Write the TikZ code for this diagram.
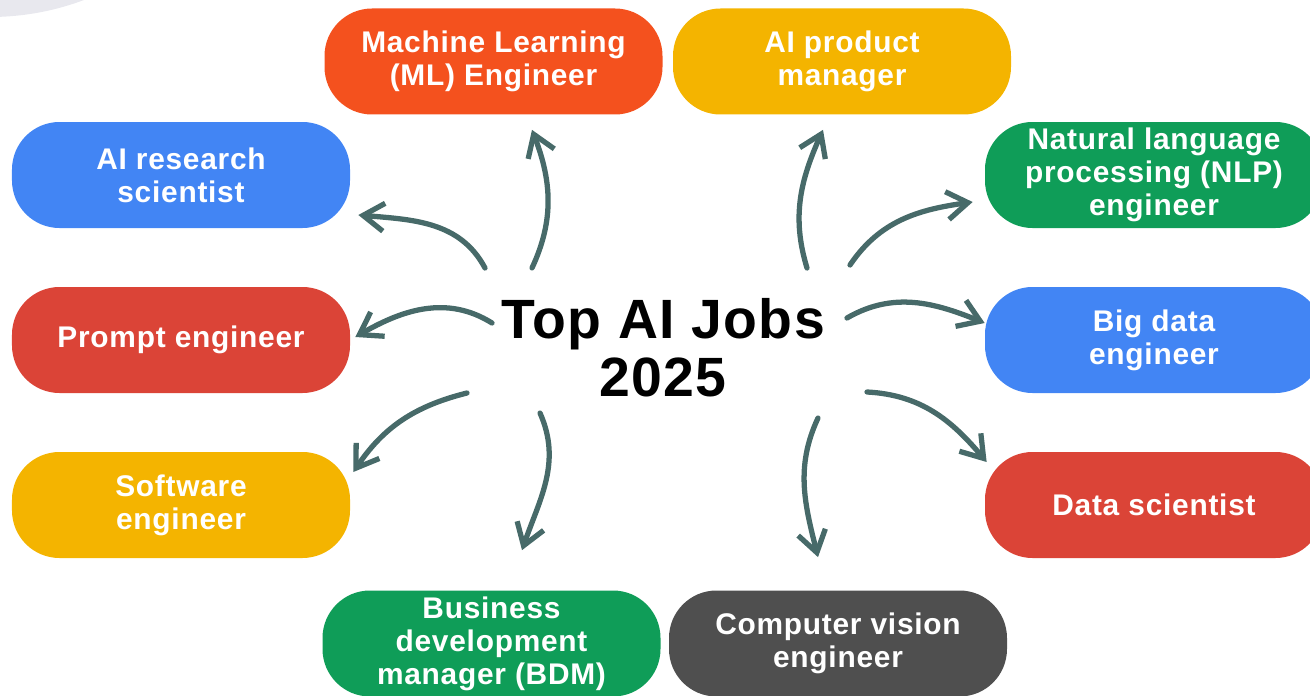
\documentclass[tikz,border=0pt]{standalone}
\usepackage{fontspec}
\setmainfont[LetterSpace=2.5]{Liberation Sans}
\usetikzlibrary{arrows.meta}
\definecolor{mlorange}{HTML}{F4511E}
\definecolor{gyellow}{HTML}{F4B400}
\definecolor{gblue}{HTML}{4285F4}
\definecolor{ggreen}{HTML}{0F9D58}
\definecolor{gred}{HTML}{DB4437}
\definecolor{cvgray}{HTML}{4F4F4F}
\definecolor{arrowteal}{HTML}{476A69}
\definecolor{bgcircle}{HTML}{E8E8EE}

\begin{document}
\begin{tikzpicture}[
            node distance=3.3cm,
            jobbox/.style={rectangle, rounded corners=0.95cm, minimum width=6.76cm, minimum height=2.12cm, align=center, text=white, font=\fontsize{17}{18.8}\selectfont\bfseries},
            arrow/.style={-{Straight Barb[length=0.42cm,width=0.56cm]}, line width=3pt, line cap=round, line join=round, draw=arrowteal}
        ]
            \useasboundingbox (0,0) rectangle (26.2,13.9);
            \clip (0,0) rectangle (26.2,13.9);
            \fill[bgcircle] (-0.2,18.9) circle (5.34cm);

            \node[jobbox, fill=mlorange] (ml) at (9.87,12.67) {Machine Learning\\(ML) Engineer};
            \node[jobbox, fill=gyellow, right of=ml, node distance=6.97cm] (product) {AI product\\manager};
            \node[jobbox, fill=gblue] (research) at (3.62,10.4) {AI research\\scientist};
            \node[jobbox, fill=gred, below of=research] (prompt) {Prompt engineer};
            \node[jobbox, fill=gyellow, below of=prompt] (software) {Software\\engineer};
            \node[jobbox, fill=ggreen] (nlp) at (23.08,10.4) {Natural language\\processing (NLP)\\engineer};
            \node[jobbox, fill=gblue, below of=nlp] (bigdata) {Big data\\engineer};
            \node[jobbox, fill=gred, below of=bigdata] (datasci) {Data scientist};
            \node[jobbox, fill=ggreen] (bdm) at (9.83,1.03) {Business\\development\\manager (BDM)};
            \node[jobbox, fill=cvgray, right of=bdm, node distance=6.93cm] (cv) {Computer vision\\engineer};

            \node[align=center, font=\fontsize{31.5}{33}\selectfont\bfseries] (title) at (13.26,6.94) {Top AI Jobs\\2025};

            \draw[arrow] ([xshift=-3.56cm,yshift=1.6cm]title.center) to[out=118,in=-5] ([xshift=0.16cm,yshift=-0.8cm]research.east);
            \draw[arrow] ([xshift=-2.62cm,yshift=1.6cm]title.center) to[out=65,in=-69] ([xshift=0.77cm,yshift=-0.3cm]ml.south);
            \draw[arrow] ([xshift=2.88cm,yshift=1.6cm]title.center) to[out=107,in=-114] ([xshift=-0.38cm,yshift=-0.3cm]product.south);
            \draw[arrow] ([xshift=3.74cm,yshift=1.66cm]title.center) to[out=56,in=188] ([xshift=-0.24cm,yshift=-0.54cm]nlp.west);
            \draw[arrow] ([xshift=-3.42cm,yshift=0.5cm]title.center) to[out=148,in=30] ([xshift=0.1cm,yshift=0.06cm]prompt.east);
            \draw[arrow] ([xshift=3.68cm,yshift=0.6cm]title.center) to[out=30,in=158] ([yshift=0.34cm]bigdata.west);
            \draw[arrow] ([xshift=-3.92cm,yshift=-0.9cm]title.center) to[out=194,in=56] ([xshift=0.06cm,yshift=0.66cm]software.east);
            \draw[arrow] ([xshift=4.08cm,yshift=-0.88cm]title.center) to[out=-3,in=130] ([xshift=0.04cm,yshift=0.86cm]datasci.west);
            \draw[arrow] ([xshift=-2.46cm,yshift=-1.3cm]title.center) to[out=-66,in=71] ([xshift=0.61cm,yshift=0.8cm]bdm.north);
            \draw[arrow] ([xshift=3.1cm,yshift=-1.4cm]title.center) to[out=-115,in=104] ([xshift=-0.4cm,yshift=0.66cm]cv.north);
        \end{tikzpicture}
\end{document}
